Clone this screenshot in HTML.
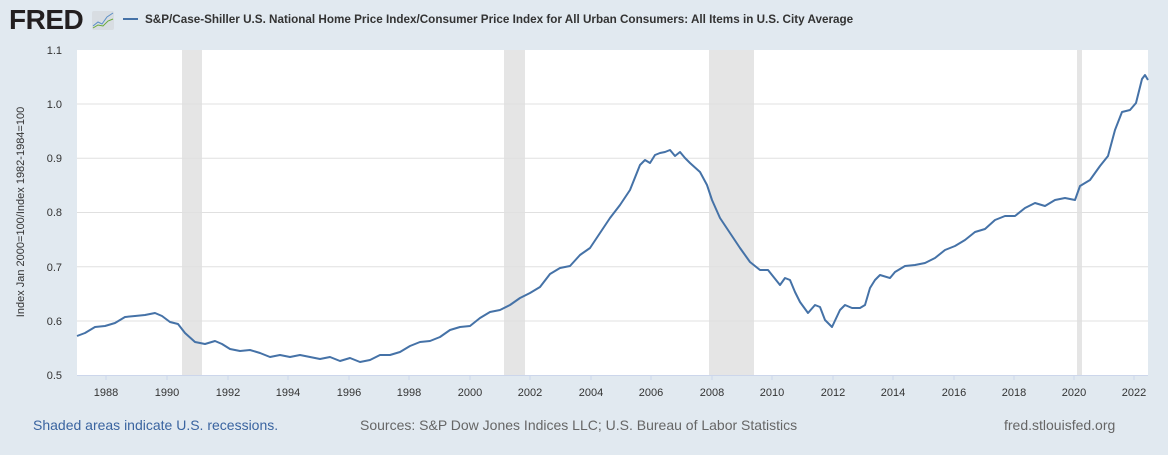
<!DOCTYPE html>
<html><head><meta charset="utf-8"><style>
body{margin:0;width:1168px;height:450px;background:#e1e9f0;font-family:"Liberation Sans",sans-serif;overflow:hidden}
</style></head><body>
<svg width="1168" height="450" xmlns="http://www.w3.org/2000/svg" font-family="Liberation Sans, sans-serif">
<rect width="1168" height="450" fill="#e1e9f0"/>
<text x="9" y="29" font-size="28" font-weight="bold" fill="#231f20" letter-spacing="-0.5">FRED</text>
<rect x="92" y="11" width="22" height="19" rx="2" fill="#d8dde2"/>
<polyline points="93,26 98,22 102,24 107,17 113,13" fill="none" stroke="#5b8fc7" stroke-width="1"/>
<polyline points="93,28 98,25 103,26 108,21 113,19" fill="none" stroke="#6aaa3a" stroke-width="1"/>
<line x1="123" y1="19" x2="138" y2="19" stroke="#4572a7" stroke-width="2"/>
<text x="145" y="23" font-size="11.7" font-weight="bold" fill="#333">S&amp;P/Case-Shiller U.S. National Home Price Index/Consumer Price Index for All Urban Consumers: All Items in U.S. City Average</text>
<rect x="77" y="50" width="1071" height="325" fill="#fff"/>
<g fill="#e5e5e5"><rect x="182" y="50" width="20" height="325"/><rect x="504" y="50" width="21" height="325"/><rect x="709" y="50" width="45" height="325"/><rect x="1077" y="50" width="5" height="325"/></g>
<g stroke="#e0e0e0" stroke-width="1"><line x1="77" y1="104" x2="1148" y2="104"/><line x1="77" y1="158.3" x2="1148" y2="158.3"/><line x1="77" y1="212.5" x2="1148" y2="212.5"/><line x1="77" y1="266.7" x2="1148" y2="266.7"/><line x1="77" y1="321" x2="1148" y2="321"/></g>
<line x1="77" y1="375.5" x2="1148" y2="375.5" stroke="#ccd6eb"/>
<g stroke="#ccd6eb"><line x1="106" y1="375" x2="106" y2="380"/><line x1="167" y1="375" x2="167" y2="380"/><line x1="228" y1="375" x2="228" y2="380"/><line x1="288" y1="375" x2="288" y2="380"/><line x1="349" y1="375" x2="349" y2="380"/><line x1="409" y1="375" x2="409" y2="380"/><line x1="470" y1="375" x2="470" y2="380"/><line x1="530" y1="375" x2="530" y2="380"/><line x1="591" y1="375" x2="591" y2="380"/><line x1="651" y1="375" x2="651" y2="380"/><line x1="712" y1="375" x2="712" y2="380"/><line x1="772" y1="375" x2="772" y2="380"/><line x1="833" y1="375" x2="833" y2="380"/><line x1="893" y1="375" x2="893" y2="380"/><line x1="954" y1="375" x2="954" y2="380"/><line x1="1014" y1="375" x2="1014" y2="380"/><line x1="1074" y1="375" x2="1074" y2="380"/><line x1="1134" y1="375" x2="1134" y2="380"/></g>
<g font-size="11" fill="#333" text-anchor="middle"><text x="106" y="396">1988</text><text x="167" y="396">1990</text><text x="228" y="396">1992</text><text x="288" y="396">1994</text><text x="349" y="396">1996</text><text x="409" y="396">1998</text><text x="470" y="396">2000</text><text x="530" y="396">2002</text><text x="591" y="396">2004</text><text x="651" y="396">2006</text><text x="712" y="396">2008</text><text x="772" y="396">2010</text><text x="833" y="396">2012</text><text x="893" y="396">2014</text><text x="954" y="396">2016</text><text x="1014" y="396">2018</text><text x="1074" y="396">2020</text><text x="1134" y="396">2022</text></g>
<g font-size="11" fill="#333" text-anchor="end"><text x="62" y="54">1.1</text><text x="62" y="108">1.0</text><text x="62" y="162">0.9</text><text x="62" y="216">0.8</text><text x="62" y="271">0.7</text><text x="62" y="325">0.6</text><text x="62" y="379">0.5</text></g>
<text transform="translate(24,212) rotate(-90)" font-size="11" fill="#333" text-anchor="middle">Index Jan 2000=100/Index 1982-1984=100</text>
<polyline fill="none" stroke="#4572a7" stroke-width="2" stroke-linejoin="round" points="77,336 85,333 95,327 105,326 115,323 125,317 135,316 145,315 155,313 162,316 170,322 178,324 185,333 195,342 205,344 215,341 222,344 230,349 240,351 250,350 260,353 270,357 280,355 290,357 300,355 310,357 320,359 330,357 340,361 350,358 360,362 370,360 380,355 390,355 400,352 410,346 420,342 430,341 440,337 450,330 460,327 470,326 480,318 490,312 500,310 510,305 520,298 530,293 540,287 550,274 560,268 570,266 580,255 590,248 600,233 610,218 620,205 630,190 640,165 645,160 650,163 655,155 660,153 665,152 670,150 675,156 680,152 685,158 690,163 700,172 707,185 712,200 720,218 730,233 740,248 750,262 760,270 768,270 772,275 780,285 785,278 790,280 795,292 800,302 808,313 815,305 820,307 825,320 832,327 840,310 845,305 852,308 860,308 865,305 870,288 875,280 880,275 890,278 895,272 905,266 915,265 925,263 935,258 945,250 955,246 965,240 975,232 985,229 995,220 1005,216 1015,216 1025,208 1035,203 1045,206 1055,200 1065,198 1075,200 1080,186 1090,180 1100,166 1108,156 1115,130 1122,112 1130,110 1136,103 1142,79 1145,75 1148,80"/>
<text x="33" y="430" font-size="14" fill="#3a64a0">Shaded areas indicate U.S. recessions.</text>
<text x="360" y="430" font-size="14" fill="#666">Sources: S&amp;P Dow Jones Indices LLC; U.S. Bureau of Labor Statistics</text>
<text x="1004" y="430" font-size="14" fill="#666">fred.stlouisfed.org</text>
</svg>
</body></html>
